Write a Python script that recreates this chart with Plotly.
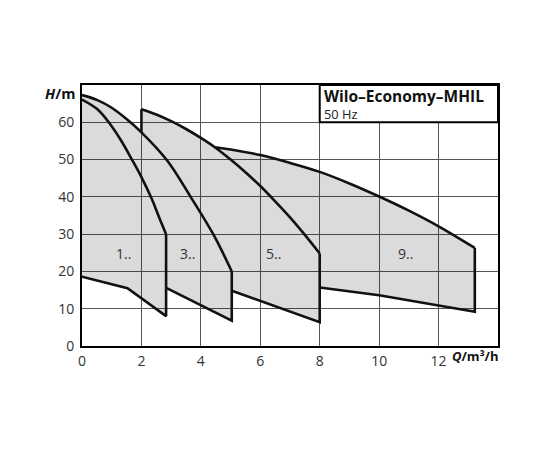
import numpy as np
import plotly.graph_objects as go

# ---- data ----
# upper (head) curves, Q in m3/h, H in m
s1_curve_q = [0, 0.5, 0.9, 1.3, 1.68, 2.0, 2.35, 2.6, 2.83]
s1_curve_h = [66.1, 63.6, 60.0, 55.3, 50.0, 45.3, 39.4, 34.4, 30.0]
s1_lower_q = [0, 1.53, 2.83]
s1_lower_h = [18.6, 15.5, 8.0]

s3_curve_q = [0, 0.5, 1.0, 1.51, 2.0, 2.86, 3.64, 4.43, 5.04]
s3_curve_h = [67.3, 66.0, 63.9, 60.8, 57.3, 49.8, 40.2, 29.8, 20.0]
s3_lower_q = [2.85, 5.04]
s3_lower_h = [15.5, 6.8]

s5_left_h = 57.3  # where the left edge of 5.. meets curve 3..
s5_curve_q = [2.0, 2.5, 3.0, 3.5, 4.0, 4.47, 5.0, 5.5, 6.0, 6.5, 7.0, 7.5, 8.0]
s5_curve_h = [63.5, 62.1, 60.3, 58.2, 55.8, 53.3, 50.0, 46.6, 42.9, 38.8, 34.5, 29.8, 24.8]
s5_lower_q = [5.04, 8.0]
s5_lower_h = [14.8, 6.4]

s9_curve_q = [4.47, 5.0, 6.0, 7.0, 8.0, 9.0, 10.0, 11.0, 12.0, 13.22]
s9_curve_h = [53.3, 52.7, 51.2, 49.1, 46.7, 43.6, 40.1, 36.3, 32.1, 26.3]
s9_lower_q = [8.0, 10.0, 13.22]
s9_lower_h = [15.7, 13.6, 9.2]

region_labels = ["1..", "3..", "5..", "9.."]
label_q = [1.4, 3.55, 6.45, 10.9]
label_h = [24.9, 24.9, 24.9, 24.9]

x_ticks = [0, 2, 4, 6, 8, 10, 12]
y_ticks = [0, 10, 20, 30, 40, 50, 60]

title_main = "Wilo–Economy–MHIL"
title_sub = "50 Hz"

# ---- build figure ----
fig = go.Figure()


def arr(a):
    return np.asarray(a, dtype=float)


# combined shaded envelope
q3, h3 = arr(s3_curve_q), arr(s3_curve_h)
q5, h5 = arr(s5_curve_q), arr(s5_curve_h)
m3 = q3 <= q5[0]
m5 = q5 <= s9_curve_q[0]
env_q = np.concatenate([q3[m3], [q5[0]], q5[m5], arr(s9_curve_q),
                        arr(s9_lower_q)[::-1], arr(s5_lower_q)[::-1],
                        arr(s3_lower_q)[::-1], arr(s1_lower_q)[::-1]])
env_h = np.concatenate([h3[m3], [s5_left_h], h5[m5], arr(s9_curve_h),
                        arr(s9_lower_h)[::-1], arr(s5_lower_h)[::-1],
                        arr(s3_lower_h)[::-1], arr(s1_lower_h)[::-1]])
fig.add_trace(go.Scatter(x=env_q, y=env_h, mode="lines", fill="toself",
                         fillcolor="rgba(0,0,0,0.14)", line=dict(width=0),
                         hoverinfo="skip", showlegend=False))

LC = "#111111"
LW = 2.6


def seg(xs, ys, spline=False):
    fig.add_trace(go.Scatter(x=list(xs), y=list(ys), mode="lines",
                             line=dict(color=LC, width=LW,
                                       shape="spline" if spline else "linear",
                                       smoothing=1.0),
                             hoverinfo="skip", showlegend=False))


# series 1..
seg(s1_curve_q, s1_curve_h, spline=True)
seg(list(s1_lower_q) + [s1_curve_q[-1]], list(s1_lower_h) + [s1_curve_h[-1]])
# series 3..
seg(s3_curve_q, s3_curve_h, spline=True)
seg(list(s3_lower_q) + [s3_curve_q[-1]], list(s3_lower_h) + [s3_curve_h[-1]])
# series 5..
seg([s5_curve_q[0], s5_curve_q[0]], [s5_left_h, s5_curve_h[0]])
seg(s5_curve_q, s5_curve_h, spline=True)
seg(list(s5_lower_q) + [s5_curve_q[-1]], list(s5_lower_h) + [s5_curve_h[-1]])
# series 9..
seg(s9_curve_q, s9_curve_h, spline=True)
seg(list(s9_lower_q) + [s9_curve_q[-1]], list(s9_lower_h) + [s9_curve_h[-1]])

font_fam = "Open Sans, Noto Sans, DejaVu Sans, sans-serif"

for t, q, h in zip(region_labels, label_q, label_h):
    fig.add_annotation(x=q, y=h, text=t, showarrow=False,
                       font=dict(size=14, color="#333333", family=font_fam))

# title box
fig.add_shape(type="rect", xref="x", yref="y", x0=8, x1=14, y0=60, y1=70,
              fillcolor="white", line=dict(color="black", width=2), layer="above")
fig.add_annotation(xref="x", yref="y", x=8, y=70, xanchor="left", yanchor="top",
                   xshift=3, yshift=1, align="left", borderpad=0,
                   text="<span style='font-size:15.5px;color:#111111'><b>" + title_main
                        + "</b></span><br>" + title_sub,
                   showarrow=False,
                   font=dict(size=12.8, color="#222222", family=font_fam))

# axis titles
fig.add_annotation(xref="paper", yref="y", x=0, y=67.8, xanchor="right", xshift=-5,
                   text="<b><i>H</i>/m</b>", showarrow=False,
                   font=dict(size=14.5, color="#111111", family=font_fam))
fig.add_annotation(xref="x", yref="paper", x=14, y=0, xanchor="right", yanchor="middle",
                   yshift=-10, xshift=2, text="<b><i>Q</i>/m³/h</b>", showarrow=False,
                   font=dict(size=13, color="#111111", family=font_fam))

fig.update_xaxes(range=[0, 14], tickvals=x_ticks, ticktext=[str(v) for v in x_ticks],
                 showgrid=True, gridcolor="#555555", gridwidth=1, zeroline=False,
                 showline=True, mirror=True, linecolor="black", linewidth=2,
                 ticks="outside", ticklen=1, tickcolor="rgba(0,0,0,0)",
                 tickfont=dict(size=14, color="#333333", family=font_fam))
fig.update_yaxes(range=[0, 70], tickvals=y_ticks, ticktext=[str(v) for v in y_ticks],
                 showgrid=True, gridcolor="#555555", gridwidth=1, zeroline=False,
                 showline=True, mirror=True, linecolor="black", linewidth=2,
                 ticks="outside", ticklen=3, tickcolor="rgba(0,0,0,0)",
                 tickfont=dict(size=14, color="#333333", family=font_fam))

fig.update_layout(width=550, height=450, margin=dict(l=74, r=60, t=77, b=112),
                  plot_bgcolor="white", paper_bgcolor="white", showlegend=False)

fig.write_html("out.html")
